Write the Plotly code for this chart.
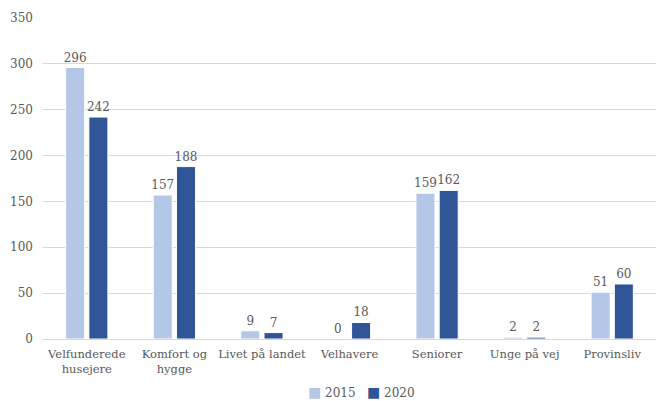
import plotly.graph_objects as go

categories = ["Velfunderede<br>husejere", "Komfort og<br>hygge", "Livet på landet",
              "Velhavere", "Seniorer", "Unge på vej", "Provinsliv"]
values_2015 = [296, 157, 9, 0, 159, 2, 51]
values_2020 = [242, 188, 7, 18, 162, 2, 60]
y_ticks = [0, 50, 100, 150, 200, 250, 300, 350]
series_names = ["2015", "2020"]
series_colors = ["#B4C7E7", "#2F5597"]

FONT = "'DejaVu Serif', serif"
TEXT = "#595959"
SIZE = 12

fig = go.Figure()
for name, vals, col in zip(series_names, [values_2015, values_2020], series_colors):
    fig.add_trace(go.Bar(
        name=name, x=categories, y=vals, showlegend=False,
        marker=dict(color=col, line=dict(color="white", width=1)),
        text=[str(v) for v in vals], textposition="outside", cliponaxis=False,
        constraintext="none",
        textfont=dict(family=FONT, size=SIZE, color=TEXT),
    ))

# compact legend: coloured square keys followed by the series name
legend_text = "&nbsp;&nbsp;&nbsp;".join(
    f"<span style='color:{c};font-size:14px'>■</span> {n}"
    for n, c in zip(series_names, series_colors)
)
fig.add_annotation(
    text=legend_text, xref="paper", yref="paper", x=0.52, xanchor="center",
    y=-62 / 321, yanchor="bottom", showarrow=False, borderpad=0,
    font=dict(family=FONT, size=SIZE, color=TEXT),
)

fig.update_layout(
    width=658, height=401,
    margin=dict(l=43, r=2, t=18, b=62, autoexpand=False),
    paper_bgcolor="white", plot_bgcolor="white",
    barmode="group", bargap=0.47, bargroupgap=0.18,
    font=dict(family=FONT, size=SIZE, color=TEXT),
    showlegend=False,
)
fig.update_yaxes(
    range=[0, 350], tickvals=y_ticks, ticktext=[str(t) for t in y_ticks],
    showgrid=True, gridcolor="#D9D9D9", gridwidth=1,
    zeroline=False, showline=False, ticks="", ticklabelstandoff=9,
    tickfont=dict(family=FONT, size=SIZE, color=TEXT),
)
fig.update_xaxes(
    showline=True, linecolor="#D9D9D9", linewidth=1, ticks="", tickangle=0,
    ticklabelstandoff=4,
    tickfont=dict(family=FONT, size=11.5, color=TEXT),
)

fig.write_html("out.html")
